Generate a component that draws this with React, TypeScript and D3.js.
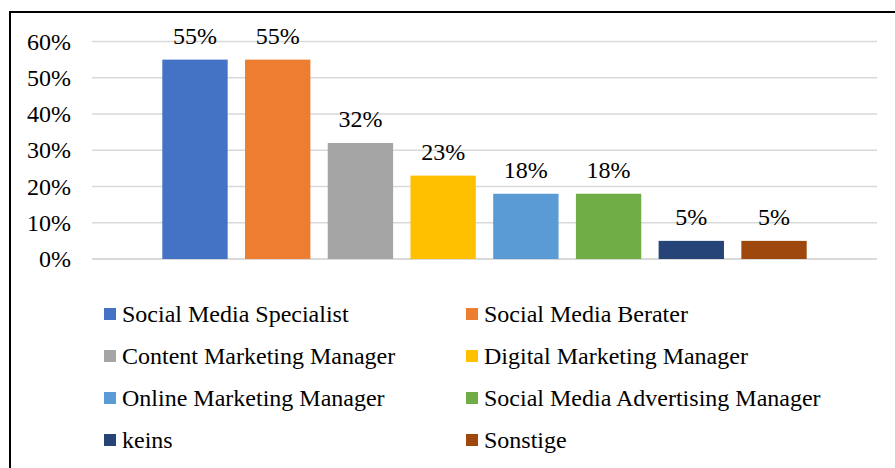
import React from 'react';
import * as d3 from 'd3';

const categories = [
  'Social Media Specialist',
  'Social Media Berater',
  'Content Marketing Manager',
  'Digital Marketing Manager',
  'Online Marketing Manager',
  'Social Media Advertising Manager',
  'keins',
  'Sonstige',
];
const values = [0.55, 0.55, 0.32, 0.23, 0.18, 0.18, 0.05, 0.05];
const colors = ['#4472C4', '#ED7D31', '#A5A5A5', '#FFC000', '#5B9BD5', '#70AD47', '#264478', '#9E480E'];
const yTicks = [0, 0.1, 0.2, 0.3, 0.4, 0.5, 0.6];

const W = 895;
const H = 468;
const textStyle: React.CSSProperties = { fontFamily: "'Liberation Serif'", fontSize: '24px' };

const plot = { left: 92, right: 877, top: 41.5, bottom: 259 };

const x = d3
  .scaleBand<string>()
  .domain(categories)
  .range([plot.left, plot.right])
  .paddingInner(0.21)
  .paddingOuter(0.85);

const y = d3.scaleLinear().domain([0, 0.6]).range([plot.bottom, plot.top]);
const pct = d3.format('.0%');

const App: React.FC = () => {
  return (
    <svg width={W} height={H} style={{ position: 'absolute', left: 0, top: 0, display: 'block' }}>
      <rect width={W} height={H} fill="#fff" />
      {/* frame */}
      <rect x={10} y={12} width={W + 20} height={H + 20} fill="none" stroke="#000" strokeWidth={2} />

      {yTicks.map((t) => (
        <g key={t}>
          <line
            x1={plot.left}
            x2={plot.right}
            y1={y(t)}
            y2={y(t)}
            stroke="#D9D9D9"
            strokeWidth={t === 0 ? 2 : 1.5}
          />
          <text x={71} y={y(t) + 8} textAnchor="end" fill="#000" style={textStyle}>
            {pct(t)}
          </text>
        </g>
      ))}

      {categories.map((c, i) => (
        <g key={c}>
          <rect
            x={x(c)}
            y={y(values[i])}
            width={x.bandwidth()}
            height={y(0) - y(values[i])}
            fill={colors[i]}
          />
          <text
            x={(x(c) as number) + x.bandwidth() / 2}
            y={y(values[i]) - 16}
            textAnchor="middle"
            fill="#000"
            style={textStyle}
          >
            {pct(values[i])}
          </text>
        </g>
      ))}

      {categories.map((c, i) => (
        <g key={'lg' + c} transform={`translate(${i % 2 === 0 ? 104 : 466},${314 + Math.floor(i / 2) * 42})`}>
          <rect x={0} y={-6} width={12} height={12} fill={colors[i]} />
          <text x={18} y={8} fill="#000" style={textStyle}>
            {c}
          </text>
        </g>
      ))}
    </svg>
  );
};

export default App;
